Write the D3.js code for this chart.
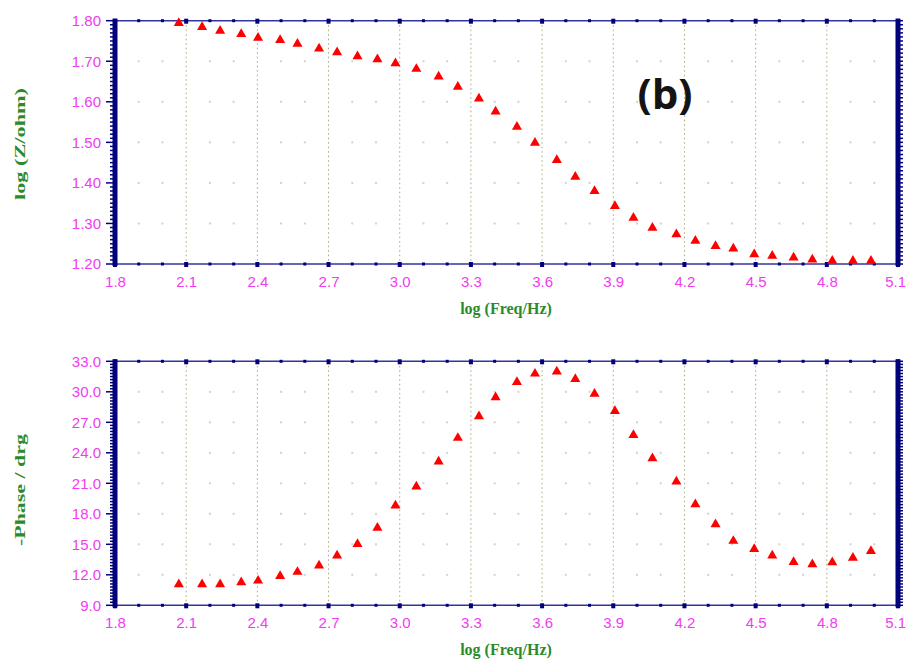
<!DOCTYPE html>
<html>
<head>
<meta charset="utf-8">
<script src="https://d3js.org/d3.v7.min.js"></script>
<style>
  html, body { margin: 0; padding: 0; background: #fff; }
  svg { display: block; }
</style>
</head>
<body>
<svg id="chart" width="906" height="659"></svg>
<script>
// log frequency of each measurement point
const logFreq = [2.069, 2.167, 2.243, 2.332, 2.403, 2.496, 2.569, 2.660, 2.736, 2.822,
                 2.906, 2.982, 3.070, 3.164, 3.245, 3.334, 3.404, 3.494, 3.570, 3.662,
                 3.740, 3.821, 3.907, 3.985, 4.065, 4.166, 4.246, 4.331, 4.406, 4.494,
                 4.570, 4.660, 4.739, 4.823, 4.910, 4.986];
// log |Z| (ohm)
const logZ = [1.794, 1.784, 1.775, 1.767, 1.758, 1.752, 1.743, 1.731, 1.722, 1.712,
              1.705, 1.695, 1.681, 1.662, 1.637, 1.608, 1.576, 1.538, 1.499, 1.456,
              1.415, 1.380, 1.343, 1.314, 1.289, 1.273, 1.257, 1.244, 1.238, 1.224,
              1.220, 1.216, 1.211, 1.208, 1.208, 1.208];
// -phase (degrees)
const negPhase = [11.07, 11.07, 11.07, 11.26, 11.42, 11.88, 12.28, 12.90, 13.88, 15.03,
                  16.63, 18.80, 20.67, 23.13, 25.46, 27.59, 29.46, 30.96, 31.78, 31.98,
                  31.26, 29.81, 28.11, 25.75, 23.46, 21.16, 18.94, 16.97, 15.33, 14.54,
                  13.88, 13.26, 13.03, 13.23, 13.68, 14.34];

const xTicks = [1.8, 2.1, 2.4, 2.7, 3.0, 3.3, 3.6, 3.9, 4.2, 4.5, 4.8, 5.1];
const zTicks = [1.20, 1.30, 1.40, 1.50, 1.60, 1.70, 1.80];
const phaseTicks = [9, 12, 15, 18, 21, 24, 27, 30, 33];

const NAVY = "#00007a";
const MAGENTA = "#f03cf0";
const GREEN = "#2c8a2c";
const RED = "#ff0000";

const svg = d3.select("#chart");
const left = 115, right = 898;
const W = +svg.attr("width");

const x = d3.scaleLinear().domain([1.8, 5.1]).range([left, right]);
const xMinor = d3.range(18, 52).map(v => v / 10);

function panel(cfg) {
  const g = svg.append("g");
  const y = d3.scaleLinear().domain(cfg.domain).range([cfg.bottom, cfg.top]);
  const yStep = cfg.ticks[1] - cfg.ticks[0];
  const yMinor = d3.range(0, (cfg.domain[1] - cfg.domain[0]) / yStep * 10 + 0.5)
    .map(i => cfg.domain[0] + i * yStep / 10);

  // dotted vertical grid at major x ticks
  g.append("g").selectAll("line")
    .data(xTicks.slice(1, -1)).join("line")
    .attr("x1", d => x(d)).attr("x2", d => x(d))
    .attr("y1", cfg.top).attr("y2", cfg.bottom)
    .attr("stroke", "#a3aa72").attr("stroke-width", 1)
    .attr("stroke-dasharray", "1.5,3");

  // grid dots at minor x positions along each major y value
  const dots = [];
  cfg.ticks.slice(1, -1).forEach(v => xMinor.slice(1, -1).forEach(u => {
    if (!xTicks.some(t => Math.abs(t - u) < 1e-6)) dots.push([u, v]);
  }));
  g.append("g").selectAll("rect")
    .data(dots).join("rect")
    .attr("x", d => x(d[0]) - 1).attr("y", d => y(d[1]) - 1)
    .attr("width", 2).attr("height", 2)
    .attr("fill", "#d2d2d2");

  // top and bottom frame lines with square tick marks
  [cfg.top, cfg.bottom].forEach(yy => {
    g.append("line")
      .attr("x1", left).attr("x2", right).attr("y1", yy).attr("y2", yy)
      .attr("stroke", "#3434a0").attr("stroke-width", 1.6);
    g.append("g").selectAll("rect")
      .data(xMinor).join("rect")
      .each(function (d) {
        const major = xTicks.some(t => Math.abs(t - d) < 1e-6);
        const w = major ? 4 : 3, h = major ? 5 : 3;
        d3.select(this)
          .attr("x", x(d) - w / 2).attr("y", yy - (major ? 2 : 1.5))
          .attr("width", w).attr("height", h);
      })
      .attr("fill", NAVY);
  });

  // thick left axis with ticks on the outside
  g.append("rect").attr("x", left - 2.5).attr("y", cfg.top - 2)
    .attr("width", 5).attr("height", cfg.bottom - cfg.top + 4).attr("fill", NAVY);
  g.append("g").selectAll("line")
    .data(yMinor).join("line")
    .attr("x1", (d, i) => left - (i % 10 === 0 ? 9 : 5)).attr("x2", left)
    .attr("y1", d => y(d)).attr("y2", d => y(d))
    .attr("stroke", NAVY).attr("stroke-width", 1.5);

  // thick right axis with ticks on the outside
  g.append("rect").attr("x", right - 2.5).attr("y", cfg.top - 2)
    .attr("width", 5).attr("height", cfg.bottom - cfg.top + 4).attr("fill", NAVY);
  g.append("g").selectAll("line")
    .data(yMinor).join("line")
    .attr("x1", right).attr("x2", right + 5)
    .attr("y1", d => y(d)).attr("y2", d => y(d))
    .attr("stroke", NAVY).attr("stroke-width", 1.5);

  // y tick labels
  const yAxis = d3.axisLeft(y).tickValues(cfg.ticks).tickSize(0).tickPadding(0)
    .tickFormat(d3.format(cfg.fmt));
  const ya = g.append("g").attr("transform", `translate(${left - 14},0)`).call(yAxis);
  ya.select(".domain").remove();
  ya.selectAll("text")
    .attr("fill", MAGENTA)
    .style("font-family", "'Liberation Sans Narrow', 'Arial Narrow', 'Liberation Sans', sans-serif")
    .style("font-size", "15px");

  // x tick labels; the last one is kept inside the page edge
  const xAxis = d3.axisBottom(x).tickValues(xTicks).tickSize(0).tickPadding(0)
    .tickFormat(d3.format(".1f"));
  const xa = g.append("g").attr("transform", `translate(0,${cfg.bottom + 12})`).call(xAxis);
  xa.select(".domain").remove();
  xa.selectAll("text")
    .attr("fill", MAGENTA)
    .style("font-family", "'Liberation Sans Narrow', 'Arial Narrow', 'Liberation Sans', sans-serif")
    .style("font-size", "15px");
  xa.selectAll(".tick").filter(d => d === xTicks[xTicks.length - 1]).select("text")
    .attr("text-anchor", "end")
    .attr("x", W - 0.5 - x(xTicks[xTicks.length - 1]));

  // x axis title
  g.append("text")
    .attr("x", 506).attr("y", cfg.bottom + 50)
    .attr("text-anchor", "middle")
    .attr("fill", GREEN)
    .style("font-family", "'Liberation Serif', 'Times New Roman', serif")
    .style("font-weight", "bold")
    .style("font-size", "16px")
    .text("log (Freq/Hz)");

  // y axis title
  g.append("text")
    .attr("transform", `translate(25,${cfg.titleY}) rotate(-90)`)
    .attr("text-anchor", "middle")
    .attr("textLength", 112).attr("lengthAdjust", "spacingAndGlyphs")
    .attr("fill", GREEN)
    .style("font-family", "'Liberation Serif', 'Times New Roman', serif")
    .style("font-weight", "bold")
    .style("font-size", "15px")
    .text(cfg.title);

  // data markers
  g.append("g").selectAll("path")
    .data(cfg.values.map((v, i) => [logFreq[i], v])).join("path")
    .attr("transform", d => `translate(${x(d[0])},${y(d[1])})`)
    .attr("d", d3.symbol().type(d3.symbolTriangle).size(44))
    .attr("fill", RED);

  return g;
}

panel({ top: 20.7, bottom: 264, domain: [1.2, 1.8], ticks: zTicks, fmt: ".2f",
        values: logZ, title: "log (Z/ohm)", titleY: 144 });
panel({ top: 361.3, bottom: 605.3, domain: [9, 33], ticks: phaseTicks, fmt: ".1f",
        values: negPhase, title: "-Phase / drg", titleY: 490 });

// panel tag
svg.append("text")
  .attr("x", 665).attr("y", 92)
  .attr("text-anchor", "middle").attr("dominant-baseline", "central")
  .attr("fill", "#141414")
  .style("font-family", "'Open Sans', 'Liberation Sans', sans-serif")
  .style("font-weight", "bold")
  .style("font-size", "42px")
  .text("(b)");
</script>
</body>
</html>
